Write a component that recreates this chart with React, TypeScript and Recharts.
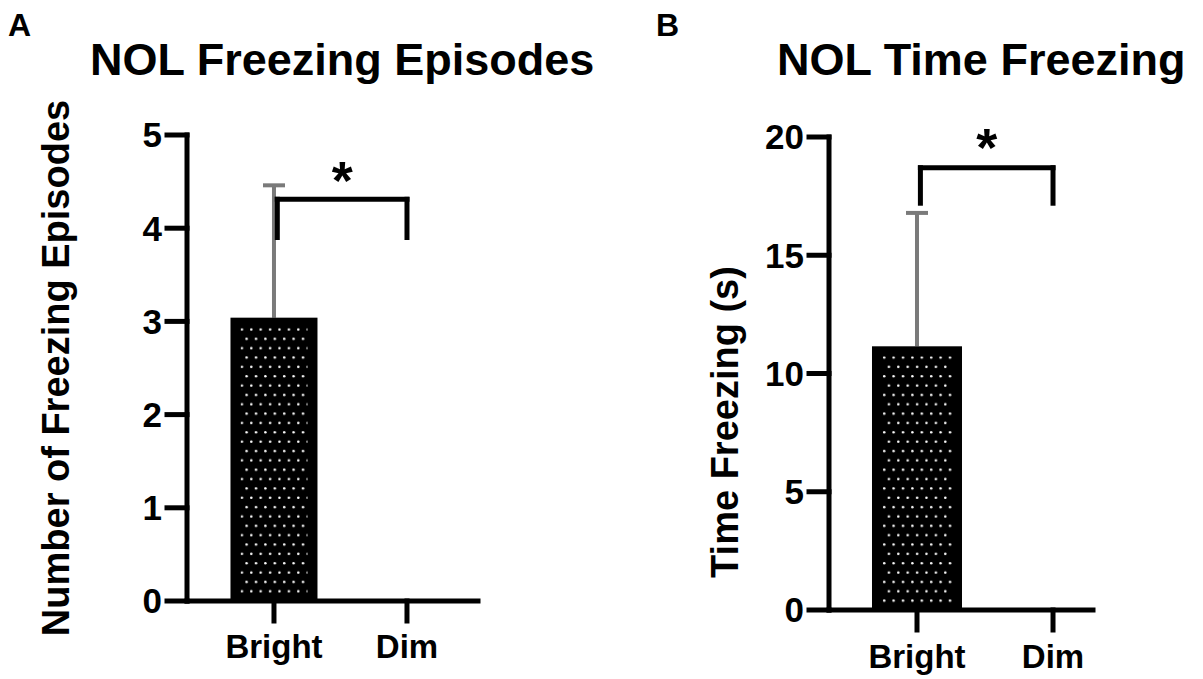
import React from 'react';
import { BarChart, Bar, XAxis, YAxis, ReferenceLine, Label } from 'recharts';

const groups = ['Bright', 'Dim'];

// panel A: number of freezing episodes
const episodeMean = [3.04, 0];
const episodeSd = [1.42, 0];
const episodeTicks = [0, 1, 2, 3, 4, 5];
const episodeBracket = [3.9, 4.31]; // leg bottom, bar height

// panel B: time freezing (s)
const timeMean = [11.15, 0];
const timeSd = [5.64, 0];
const timeTicks = [0, 5, 10, 15, 20];
const timeBracket = [17.2, 18.7];

const bracketX = [0.025, 1];

const FONT = '"Liberation Sans", Arial, Helvetica, sans-serif';

const episodeData = groups.map((g, i) => ({ pos: i, name: g, mean: episodeMean[i], sd: episodeSd[i] }));
const timeData = groups.map((g, i) => ({ pos: i, name: g, mean: timeMean[i], sd: timeSd[i] }));

const axisStyle = { stroke: '#000', strokeWidth: 5, strokeLinecap: 'square' as const };
const tickStyle = { fill: '#000', fontSize: 35, fontWeight: 700, fontFamily: FONT };
const xTickStyle = { fill: '#000', fontSize: 33, fontWeight: 700, fontFamily: FONT };

// black bar with white dot pattern and an upward-only sd whisker
const DottedBar = (props: any) => {
  const { x, y, width, height, payload, patternId } = props;
  if (!height || height <= 0 || !payload.mean) return <g />;
  const perUnit = height / payload.mean;
  const errTop = y - payload.sd * perUnit;
  const cx = x + width / 2;
  return (
    <g>
      <defs>
        <pattern id={patternId} x={0} y={0} width={9.4} height={18.7} patternUnits="userSpaceOnUse">
          <rect width={9.4} height={18.7} fill="#000" />
          <circle cx={2.2} cy={2.2} r={1.25} fill="#fff" />
          <circle cx={6.9} cy={11.55} r={1.25} fill="#fff" />
        </pattern>
      </defs>
      <line x1={cx} y1={y} x2={cx} y2={errTop} stroke="#7a7a7a" strokeWidth={4} />
      <line x1={cx - 11} y1={errTop} x2={cx + 11} y2={errTop} stroke="#7a7a7a" strokeWidth={4} />
      <rect x={x} y={y} width={width} height={height} fill="#000" />
      <rect x={x + 10} y={y + 10} width={Math.max(0, width - 20)} height={Math.max(0, height - 16)} fill={`url(#${patternId})`} />
    </g>
  );
};

const yLabel = (text: string, baseX: number, centerY: number) => (props: any) => {
  const vb = props.viewBox || { x: 0 };
  const bx = vb.x + baseX;
  return (
    <text
      x={bx}
      y={centerY}
      transform={`rotate(-90, ${bx}, ${centerY})`}
      textAnchor="middle"
      fill="#000"
      fontSize={38}
      fontWeight={700}
      fontFamily={FONT}
    >
      {text}
    </text>
  );
};

const bracketLines = (b: number[], starOffset: number) => [
  <ReferenceLine
    key="top"
    segment={[{ x: bracketX[0], y: b[1] }, { x: bracketX[1], y: b[1] }]}
    stroke="#000"
    strokeWidth={5}
    strokeLinecap="square"
    label={{ value: '*', position: 'top', offset: starOffset, fontSize: 54, fontWeight: 700, fill: '#000', fontFamily: FONT }}
  />,
  <ReferenceLine
    key="l"
    segment={[{ x: bracketX[0], y: b[0] }, { x: bracketX[0], y: b[1] }]}
    stroke="#000"
    strokeWidth={5}
    strokeLinecap="square"
  />,
  <ReferenceLine
    key="r"
    segment={[{ x: bracketX[1], y: b[0] }, { x: bracketX[1], y: b[1] }]}
    stroke="#000"
    strokeWidth={5}
    strokeLinecap="square"
  />,
];

const EpisodesChart = () => (
  <BarChart width={600} height={679} data={episodeData} margin={{ top: 135, right: 122, bottom: 0, left: 0 }}>
    <XAxis
      type="number"
      dataKey="pos"
      domain={[-0.654, 1.534]}
      allowDataOverflow
      ticks={[0, 1]}
      interval={0}
      tickFormatter={(v: number) => groups[v]}
      height={78}
      tickSize={20}
      tickMargin={14}
      axisLine={axisStyle}
      tickLine={axisStyle}
      tick={xTickStyle}
    />
    <YAxis
      type="number"
      domain={[0, 5]}
      ticks={episodeTicks}
      interval={0}
      width={187}
      tickSize={20}
      tickMargin={5}
      axisLine={axisStyle}
      tickLine={axisStyle}
      tick={tickStyle}
      label={<Label content={yLabel('Number of Freezing Episodes', 69, 368)} />}
    />
    <Bar dataKey="mean" barSize={87} isAnimationActive={false} shape={(p: any) => <DottedBar {...p} patternId="dotsA" />} />
    {bracketLines(episodeBracket, 0)}
  </BarChart>
);

const TimeChart = () => (
  <BarChart width={603} height={679} data={timeData} margin={{ top: 137, right: 110, bottom: 0, left: 0 }}>
    <XAxis
      type="number"
      dataKey="pos"
      domain={[-0.647, 1.294]}
      allowDataOverflow
      ticks={[0, 1]}
      interval={0}
      tickFormatter={(v: number) => groups[v]}
      height={69}
      tickSize={20}
      tickMargin={15}
      axisLine={axisStyle}
      tickLine={axisStyle}
      tick={xTickStyle}
    />
    <YAxis
      type="number"
      domain={[0, 20]}
      ticks={timeTicks}
      interval={0}
      width={229}
      tickSize={20}
      tickMargin={5}
      axisLine={axisStyle}
      tickLine={axisStyle}
      tick={tickStyle}
      label={<Label content={yLabel('Time Freezing (s)', 138, 422)} />}
    />
    <Bar dataKey="mean" barSize={90} isAnimationActive={false} shape={(p: any) => <DottedBar {...p} patternId="dotsB" />} />
    {bracketLines(timeBracket, 2)}
  </BarChart>
);

export default function App() {
  return (
    <div style={{ position: 'absolute', left: 0, top: 0, width: 1203, height: 679, background: '#fff', overflow: 'hidden' }}>
      <div style={{ position: 'absolute', left: 0, top: 0 }}>
        <EpisodesChart />
      </div>
      <div style={{ position: 'absolute', left: 600, top: 0 }}>
        <TimeChart />
      </div>
      <svg width={1203} height={100} style={{ position: 'absolute', left: 0, top: 0, pointerEvents: 'none' }}>
        <g fontFamily={FONT} fontWeight={700} fill="#000">
          <text x={8} y={36} fontSize={32}>A</text>
          <text x={90} y={75} fontSize={45}>NOL Freezing Episodes</text>
          <text x={656} y={36} fontSize={32}>B</text>
          <text x={777} y={75} fontSize={45}>NOL Time Freezing</text>
        </g>
      </svg>
    </div>
  );
}
